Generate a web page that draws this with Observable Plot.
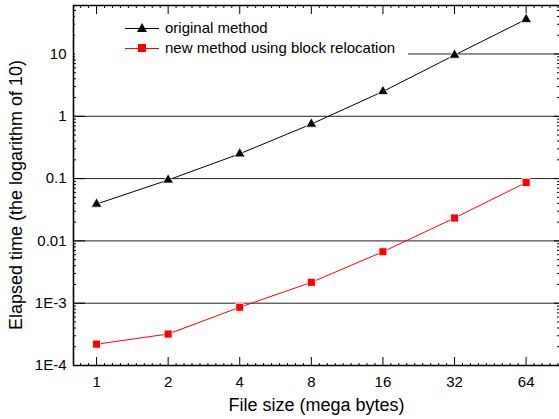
<!DOCTYPE html>
<html><head><meta charset="utf-8">
<script src="https://cdn.jsdelivr.net/npm/d3@7"></script>
<script src="https://cdn.jsdelivr.net/npm/@observablehq/plot@0.6"></script>
<style>
body{margin:0;background:#fff;}
#wrap{position:relative;width:559px;height:419px;overflow:hidden;font-family:"Liberation Sans",Arial,sans-serif;}
#legend{position:absolute;left:75px;top:14px;width:333px;height:44px;background:#fff;font-size:15px;color:#000;}
.row{position:absolute;left:0;height:20px;line-height:20px;white-space:nowrap;}
.row svg{position:absolute;left:50px;top:0;}
.row span{position:absolute;left:90px;top:0;}
</style></head>
<body><div id="wrap"><div id="legend"></div></div>
<script>
const fileSizes = [1, 2, 4, 8, 16, 32, 64];
const originalTimes = [0.039, 0.095, 0.25, 0.75, 2.5, 9.6, 36];
const newTimes = [2.2e-4, 3.2e-4, 8.6e-4, 2.16e-3, 6.7e-3, 0.0233, 0.0865];
const yTicks = [1e-4, 1e-3, 0.01, 0.1, 1, 10];
const yTickLabels = ["1E-4", "1E-3", "0.01", "0.1", "1", "10"];
const xTickLabels = ["1", "2", "4", "8", "16", "32", "64"];
const seriesNames = ["original method", "new method using block relocation"];
const seriesColors = ["#000000", "#ff0000"];

const xDomain = [0.8, 88.4];
const yDomain = [1e-4, 60];

const rows = [];
fileSizes.forEach((s, i) => {
  rows.push({size: s, time: originalTimes[i], series: seriesNames[0]});
  rows.push({size: s, time: newTimes[i], series: seriesNames[1]});
});

// minor ticks
const yMinor = [];
for (let e = -4; e <= 1; e++) for (let m = 2; m <= 9; m++) {
  const v = m * Math.pow(10, e);
  if (v <= yDomain[1]) yMinor.push(v);
}
const xMinor = [];
for (let k = -1; k <= 6; k++) for (let j = 1; j <= 8; j++) {
  const v = Math.pow(2, k + j / 9);
  if (v > xDomain[0] && v < xDomain[1]) xMinor.push(v);
}

const chart = Plot.plot({
  width: 559, height: 419,
  marginLeft: 73, marginRight: 0, marginTop: 5, marginBottom: 54,
  x: {type: "log", base: 2, domain: xDomain},
  y: {type: "log", domain: yDomain},
  color: {domain: seriesNames, range: seriesColors},
  style: {fontFamily: "'Liberation Sans', Arial, sans-serif", fontSize: "15px", background: "white", color: "black", overflow: "visible"},
  marks: [
    Plot.ruleY(yTicks.slice(1), {stroke: "#222", strokeWidth: 1}),
    Plot.axisY({anchor: "left", ticks: yMinor, tickSize: -3, tickFormat: () => "", label: null, strokeWidth: 1}),
    Plot.axisY({anchor: "right", ticks: yMinor, tickSize: -3, tickFormat: () => "", label: null}),
    Plot.axisY({anchor: "left", ticks: yTicks, tickSize: -12, tickPadding: 19, tickFormat: d => yTickLabels[yTicks.indexOf(d)], label: null, fontSize: 15}),
    Plot.axisY({anchor: "right", ticks: yTicks, tickSize: -6, tickFormat: () => "", label: null}),
    Plot.axisX({anchor: "bottom", ticks: xMinor, tickSize: -2, tickFormat: () => "", label: null}),
    Plot.axisX({anchor: "top", ticks: xMinor, tickSize: -2, tickFormat: () => "", label: null}),
    Plot.axisX({anchor: "bottom", ticks: fileSizes, tickSize: -8, tickPadding: 19, tickFormat: d => xTickLabels[fileSizes.indexOf(d)], label: null, fontSize: 15}),
    Plot.axisX({anchor: "top", ticks: fileSizes, tickSize: -8, tickFormat: () => "", label: null}),
    Plot.ruleX([xDomain[0]], {stroke: "#000", strokeWidth: 1.6}),
    Plot.ruleY([yDomain[0], yDomain[1]], {stroke: "#000", strokeWidth: 1.6}),
    Plot.line(rows, {x: "size", y: "time", z: "series", stroke: "series", strokeWidth: 1}),
    Plot.dot(rows.filter(d => d.series === seriesNames[0]), {x: "size", y: "time", symbol: "triangle", r: 4, fill: seriesColors[0], stroke: "white", strokeWidth: 0.8}),
    Plot.dot(rows.filter(d => d.series === seriesNames[1]), {x: "size", y: "time", symbol: "square", r: 4.5, fill: seriesColors[1], stroke: "white", strokeWidth: 0.8}),
    Plot.text(["File size (mega bytes)"], {frameAnchor: "bottom", dy: 45, fontSize: 18, text: d => d, fill: "black", textAnchor: "middle"}),
    Plot.text(["Elapsed time (the logarithm of 10)"], {frameAnchor: "left", rotate: -90, dx: -57, dy: 9.5, fontSize: 18, text: d => d, fill: "black", textAnchor: "middle"})
  ]
});
chart.style.position = "absolute";
chart.style.left = "0px";
chart.style.top = "0px";
const wrap = document.getElementById("wrap");
wrap.insertBefore(chart, wrap.firstChild);

// legend (overlay inside the plot area)
const legend = document.getElementById("legend");
const rowTops = [4, 24];
seriesNames.forEach((name, i) => {
  const row = document.createElement("div");
  row.className = "row";
  row.style.top = rowTops[i] + "px";
  row.style.width = "333px";
  const c = seriesColors[i];
  const marker = i === 0
    ? `<polygon points="17,5 22,14 12,14" fill="${c}"/>`
    : `<rect x="13" y="6" width="8" height="8" fill="${c}"/>`;
  row.innerHTML = `<svg width="34" height="20"><line x1="0" y1="10.5" x2="34" y2="10.5" stroke="${c}" stroke-width="1"/>${marker}</svg><span>${name}</span>`;
  legend.appendChild(row);
});
</script>
</body></html>
